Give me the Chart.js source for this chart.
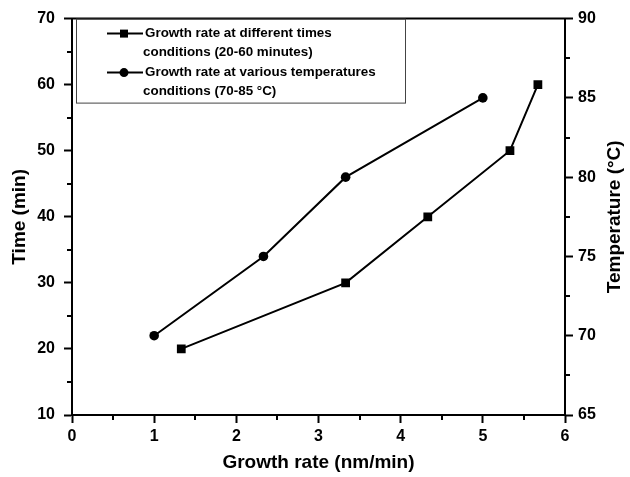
<!DOCTYPE html>
<html>
<head>
<meta charset="utf-8">
<script src="https://cdn.jsdelivr.net/npm/chart.js@4"></script>
<style>
    html, body { margin: 0; padding: 0; background: #fff; }
    #wrap { width: 630px; height: 477px; }
</style>
</head>
<body>
<div id="wrap"><canvas id="growthChart"></canvas></div>
<script>
// data
const timeRate = [1.33, 3.33, 4.33, 5.33, 5.67];
const timeMin = [20, 30, 40, 50, 60];
const tempRate = [1, 2.33, 3.33, 5];
const tempC = [70, 75, 80, 85];

const legendText = [
    ['Growth rate at different times', 'conditions (20-60 minutes)'],
    ['Growth rate at various temperatures', 'conditions (70-85 °C)']
];
const rightTitle = 'Temperature (°C)';

const tickFont = { family: '"Liberation Sans Narrow", "Liberation Sans", Arial, sans-serif', size: 16, weight: 'bold' };
const titleFont = { family: '"Liberation Sans", Arial, sans-serif', size: 19, weight: 'bold' };

function toPoints(xs, ys) {
    return xs.map((x, i) => ({ x: x, y: ys[i] }));
}

// small ticks between the labelled ones, top frame line, right title and the legend box
const framePlugin = {
    id: 'frame',
    afterDraw(chart) {
        const ctx = chart.ctx;
        const a = chart.chartArea;
        const sx = chart.scales.x, sy = chart.scales.y, sy1 = chart.scales.y1;
        ctx.save();
        ctx.strokeStyle = '#000';
        ctx.lineWidth = 2;
        ctx.beginPath();
        ctx.moveTo(a.left - 1, a.top);
        ctx.lineTo(a.right + 1, a.top);
        for (let v = 0.5; v < 6; v += 1) {
            const p = Math.round(sx.getPixelForValue(v));
            ctx.moveTo(p, a.bottom);
            ctx.lineTo(p, a.bottom + 5);
        }
        for (let v = 15; v < 70; v += 10) {
            const p = Math.round(sy.getPixelForValue(v));
            ctx.moveTo(a.left, p);
            ctx.lineTo(a.left - 5, p);
        }
        for (let v = 67.5; v < 90; v += 5) {
            const p = Math.round(sy1.getPixelForValue(v));
            ctx.moveTo(a.right, p);
            ctx.lineTo(a.right + 5, p);
        }
        ctx.stroke();

        // right axis title reads bottom to top like the left one
        ctx.save();
        ctx.translate(a.right + 50, (a.top + a.bottom) / 2);
        ctx.rotate(-Math.PI / 2);
        ctx.font = 'bold 19px "Liberation Sans", Arial, sans-serif';
        ctx.fillStyle = '#000';
        ctx.textAlign = 'center';
        ctx.textBaseline = 'middle';
        ctx.fillText(rightTitle, 0, 0);
        ctx.restore();

        // legend
        const bx = a.left + 4, by = a.top, bw = 329, bh = 84;
        ctx.lineWidth = 1;
        ctx.strokeStyle = '#444';
        ctx.strokeRect(bx + 0.5, by + 0.5, bw, bh);

        ctx.font = 'bold 13.4px "Liberation Sans", Arial, sans-serif';
        ctx.fillStyle = '#000';
        ctx.textBaseline = 'middle';
        const rows = [15, 54];
        rows.forEach((dy, i) => {
            const y = by + dy;
            ctx.strokeStyle = '#000';
            ctx.lineWidth = 2;
            ctx.beginPath();
            ctx.moveTo(bx + 31, y);
            ctx.lineTo(bx + 67, y);
            ctx.stroke();
            ctx.beginPath();
            if (i === 0) {
                ctx.rect(bx + 48 - 4, y - 4, 8, 8);
            } else {
                ctx.arc(bx + 48, y, 4.5, 0, Math.PI * 2);
            }
            ctx.fill();
            ctx.fillText(legendText[i][0], bx + 69, y);
            ctx.fillText(legendText[i][1], bx + 67, y + 19);
        });
        ctx.restore();
    }
};

const ctx = document.getElementById('growthChart').getContext('2d');
const growthChart = new Chart(ctx, {
    type: 'line',
    data: {
        datasets: [{
            label: 'Time',
            data: toPoints(timeRate, timeMin),
            yAxisID: 'y',
            borderColor: '#000',
            backgroundColor: '#000',
            borderWidth: 2,
            pointStyle: 'rect',
            pointRadius: 6.2,
            pointBorderWidth: 0
        }, {
            label: 'Temperature',
            data: toPoints(tempRate, tempC),
            yAxisID: 'y1',
            borderColor: '#000',
            backgroundColor: '#000',
            borderWidth: 2,
            pointStyle: 'circle',
            pointRadius: 4.8,
            pointBorderWidth: 0
        }]
    },
    options: {
        responsive: true,
        maintainAspectRatio: false,
        animation: false,
        events: [],
        layout: { padding: { top: 18, left: 0, right: 0, bottom: 0 } },
        plugins: {
            legend: { display: false },
            tooltip: { enabled: false }
        },
        scales: {
            x: {
                type: 'linear',
                min: 0,
                max: 6,
                afterFit: function(scale) { scale.height = 62; },
                border: { display: true, color: '#000', width: 2 },
                grid: { drawOnChartArea: false, tickLength: 8, tickColor: '#000', tickWidth: 2 },
                ticks: { stepSize: 1, color: '#000', font: tickFont, padding: 4, maxRotation: 0 },
                title: { display: true, text: 'Growth rate (nm/min)', color: '#000', font: titleFont, padding: { top: 0, bottom: 3 } }
            },
            y: {
                position: 'left',
                min: 10,
                max: 70,
                afterFit: function(scale) { scale.width = 72; },
                border: { display: true, color: '#000', width: 2 },
                grid: { drawOnChartArea: false, tickLength: 8, tickColor: '#000', tickWidth: 2 },
                ticks: { stepSize: 10, color: '#000', font: tickFont, padding: 9 },
                title: { display: true, text: 'Time (min)', color: '#000', font: titleFont, padding: { top: 8, bottom: 0 } }
            },
            y1: {
                position: 'right',
                min: 65,
                max: 90,
                afterFit: function(scale) { scale.width = 65; },
                border: { display: true, color: '#000', width: 2 },
                grid: { drawOnChartArea: false, tickLength: 8, tickColor: '#000', tickWidth: 2 },
                ticks: { stepSize: 5, color: '#000', font: tickFont, padding: 5 },
                title: { display: false }
            }
        }
    },
    plugins: [framePlugin]
});
</script>
</body>
</html>
